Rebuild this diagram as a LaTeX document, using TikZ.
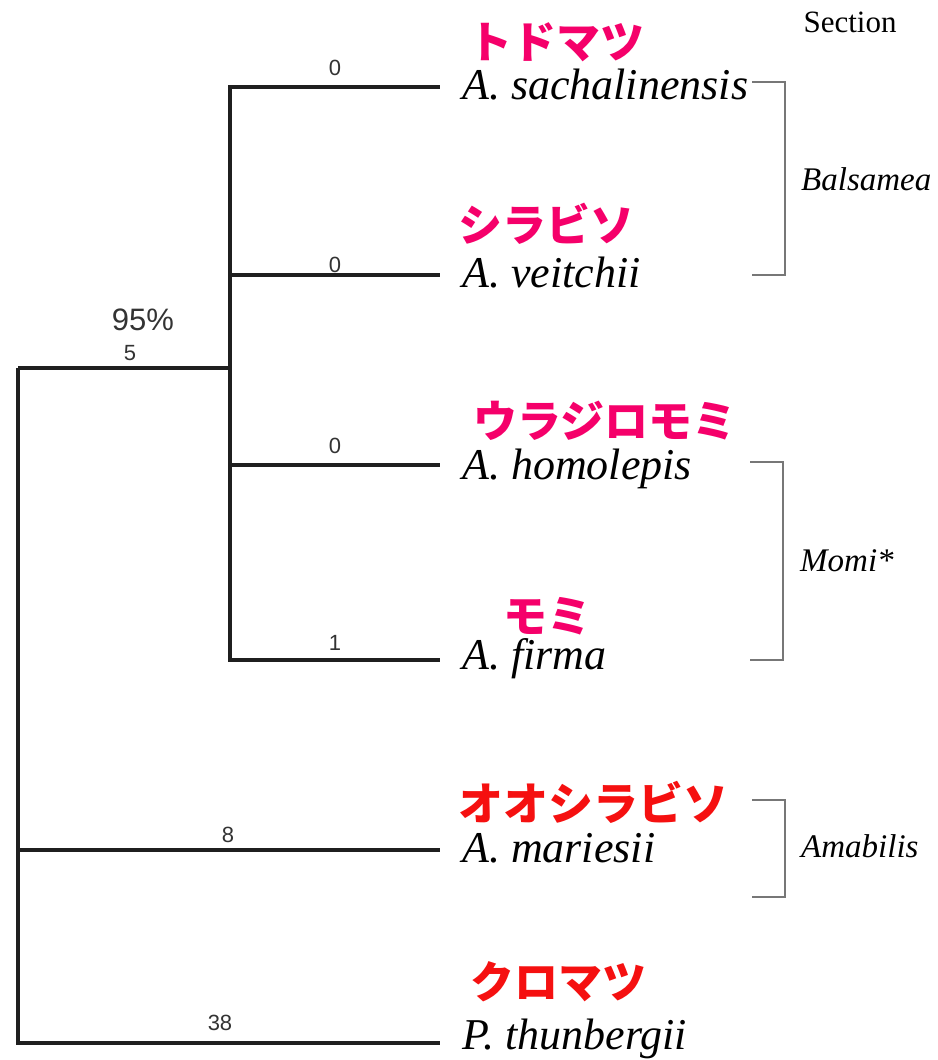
\documentclass[tikz,border=0pt]{standalone}
\usepackage{fontspec}
\setmainfont{Liberation Serif}
\setsansfont{Liberation Sans}
\newfontfamily\jpfont{Noto Sans CJK JP}
\definecolor{pinkjp}{HTML}{F5006A}
\definecolor{redjp}{HTML}{F51010}
\definecolor{brk}{HTML}{777777}
\definecolor{lbl}{HTML}{333333}
\begin{document}
\begin{tikzpicture}[x=1pt,y=-1pt,
  branch/.style={draw=black!88,line width=3.4pt},
  bracket/.style={draw=brk,line width=2.4pt},
  species/.style={anchor=base west,inner sep=0pt,font=\fontsize{44}{44}\selectfont\itshape},
  jpname/.style={anchor=west,inner sep=0pt,font=\fontsize{44}{44}\selectfont\jpfont\bfseries},
  blabel/.style={inner sep=0pt,text=lbl,font=\fontsize{22}{22}\selectfont\sffamily},
  seclabel/.style={anchor=west,inner sep=0pt,font=\fontsize{33}{33}\selectfont\itshape}]
\useasboundingbox (0,0) rectangle (937,1060);
% internal nodes and leaf ends
\coordinate (r) at (18,368);
\coordinate (n1) at (230,368);
\coordinate (l1) at (440,87);
\coordinate (l2) at (440,275);
\coordinate (l3) at (440,465);
\coordinate (l4) at (440,660);
\coordinate (l5) at (440,850);
\coordinate (l6) at (440,1043);
% branches
\draw[branch] (r) -- (n1);
\draw[branch] (n1) |- (l1);
\draw[branch] (n1) |- (l2);
\draw[branch] (n1) |- (l3);
\draw[branch] (n1) |- (l4);
\draw[branch] (r) |- (l5);
\draw[branch] (r) |- (l6);
% branch labels
\node[blabel] (b1) at (335,68) {0};
\node[blabel] (b2) at (335,265) {0};
\node[blabel] (b3) at (335,446) {0};
\node[blabel] (b4) at (335,643) {1};
\node[blabel] (b5) at (228,835) {8};
\node[blabel] (b6) at (220,1023) {38};
\node[blabel] (b7) at (130,353) {5};
\node[inner sep=0pt,text=lbl,font=\fontsize{31}{31}\selectfont\sffamily] (bs) at (143,320) {95\%};
% species
\node[species] (s1) at (462,99) {A. sachalinensis};
\node[species] (s2) at (462,287) {A. veitchii};
\node[species] (s3) at (462,479) {A. homolepis};
\node[species] (s4) at (462,669) {A. firma};
\node[species] (s5) at (462,862) {A. mariesii};
\node[species] (s6) at (462,1049) {P. thunbergii};
% japanese names
\node[jpname,text=pinkjp] (j1) at (468,42) {トドマツ};
\node[jpname,text=pinkjp] (j2) at (458,224) {シラビソ};
\node[jpname,text=pinkjp] (j3) at (473,421) {ウラジロモミ};
\node[jpname,text=pinkjp] (j4) at (503,616) {モミ};
\node[jpname,text=redjp,font=\fontsize{45}{45}\selectfont\jpfont\bfseries] (j5) at (458,802) {オオシラビソ};
\node[jpname,text=redjp] (j6) at (470,982) {クロマツ};
% section brackets
\coordinate (ba) at (752,82);
\coordinate (bb) at (752,275);
\draw[bracket] (ba) -- ++(33,0) |- (bb);
\coordinate (ma) at (750,462);
\coordinate (mb) at (750,660);
\draw[bracket] (ma) -- ++(33,0) |- (mb);
\coordinate (aa) at (752,800);
\coordinate (ab) at (752,897);
\draw[bracket] (aa) -- ++(33,0) |- (ab);
% section labels
\node[inner sep=0pt,font=\fontsize{31}{31}\selectfont] (sec) at (850,22) {Section};
\node[seclabel] (t1) at (801,179) {Balsamea};
\node[seclabel] (t2) at (800,561) {Momi*};
\node[seclabel] (t3) at (801,846) {Amabilis};
\end{tikzpicture}
\end{document}
